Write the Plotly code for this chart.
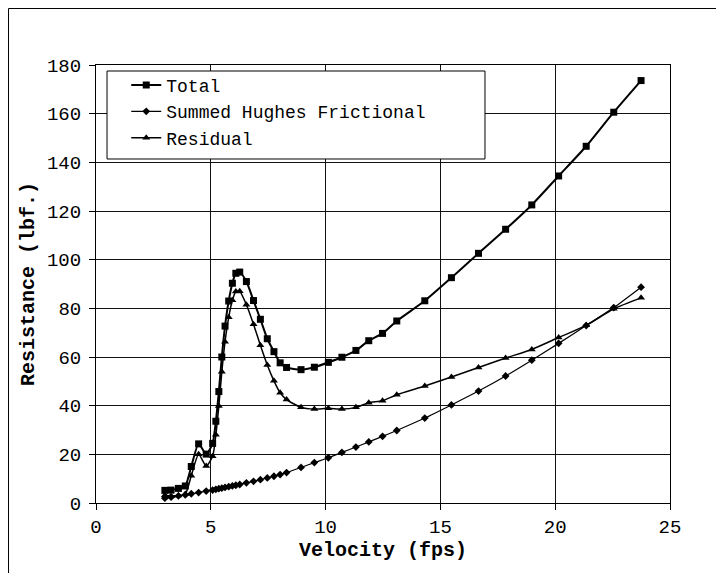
import plotly.graph_objects as go

velocity = [3.0, 3.27, 3.59, 3.89, 4.15, 4.47, 4.8, 5.08, 5.22, 5.35, 5.48, 5.62, 5.78, 5.94,
            6.09, 6.26, 6.55, 6.86, 7.16, 7.46, 7.75, 8.02, 8.3, 8.93, 9.51, 10.12, 10.71,
            11.32, 11.88, 12.48, 13.1, 14.32, 15.48, 16.66, 17.84, 18.98, 20.15, 21.35,
            22.55, 23.74]

total = [5.2, 5.3, 6.0, 7.0, 15.0, 24.3, 20.1, 24.5, 33.6, 45.8, 60.0, 72.7, 83.0, 90.3,
         94.4, 94.9, 91.0, 83.2, 75.5, 67.5, 62.2, 57.6, 55.7, 54.8, 55.8, 57.8, 59.9,
         62.7, 66.7, 69.7, 74.8, 83.1, 92.6, 102.6, 112.5, 122.5, 134.4, 146.6,
         160.6, 173.6]

frictional = [2.0, 2.4, 2.9, 3.3, 3.8, 4.3, 4.9, 5.3, 5.6, 5.9, 6.1, 6.4, 6.7, 7.0,
              7.3, 7.6, 8.3, 8.9, 9.6, 10.3, 11.0, 11.7, 12.5, 14.6, 16.6, 18.6, 20.8,
              23.0, 25.1, 27.4, 29.8, 34.9, 40.3, 46.0, 52.2, 58.7, 65.6, 72.9,
              80.3, 88.7]

residual = [3.2, 2.9, 3.1, 3.7, 11.2, 20.0, 15.2, 19.2, 28.0, 39.9, 53.9, 66.3, 76.3, 83.3,
            86.9, 87.0, 81.5, 73.5, 64.8, 56.7, 50.2, 45.3, 42.5, 39.3, 38.6, 38.9, 38.6,
            39.3, 41.2, 42.0, 44.5, 48.1, 51.8, 55.7, 59.6, 63.1, 68.0, 73.0,
            79.8, 84.3]

x_ticks = [0, 5, 10, 15, 20, 25]
y_ticks = [0, 20, 40, 60, 80, 100, 120, 140, 160, 180]

FONT = "Liberation Mono, Courier New, monospace"

fig = go.Figure()
fig.add_trace(go.Scatter(x=velocity, y=total, name="Total", mode="lines+markers",
                         line=dict(color="black", width=2, shape="spline", smoothing=0.6),
                         marker=dict(symbol="square", size=7, color="black")))
fig.add_trace(go.Scatter(x=velocity, y=frictional, name="Summed Hughes Frictional",
                         mode="lines+markers",
                         line=dict(color="black", width=1.2, shape="spline", smoothing=0.6),
                         marker=dict(symbol="diamond", size=6, color="black")))
fig.add_trace(go.Scatter(x=velocity, y=residual, name="Residual", mode="lines+markers",
                         line=dict(color="black", width=1.5, shape="spline", smoothing=0.6),
                         marker=dict(symbol="triangle-up", size=7, color="black")))

axis_common = dict(showgrid=True, gridcolor="#111", gridwidth=1, zeroline=False,
                   showline=True, linecolor="black", linewidth=1, mirror=True,
                   ticks="outside", ticklen=6, tickcolor="black",
                   tickfont=dict(family=FONT, size=19, color="black"))

fig.update_xaxes(range=[0, 25], tickvals=x_ticks, ticktext=[str(v) for v in x_ticks],
                 title=dict(text="<b>Velocity (fps)</b>", font=dict(family=FONT, size=20, color="black"),
                            standoff=4),
                 **axis_common)
fig.update_yaxes(range=[0, 180], tickvals=y_ticks, ticktext=[str(v) for v in y_ticks],
                 ticklabelstandoff=4,
                 title=dict(text="<b>Resistance (lbf.)</b>", font=dict(family=FONT, size=20, color="black"),
                            standoff=6),
                 **axis_common)

fig.update_layout(
    width=716, height=565,
    margin=dict(l=88, r=54, t=57, b=70),
    paper_bgcolor="white", plot_bgcolor="white",
    showlegend=True,
    legend=dict(x=0.0527, y=0.996, xanchor="left", yanchor="top",
                bgcolor="rgba(0,0,0,0)", borderwidth=0,
                font=dict(family=FONT, size=18, color="black")),
    shapes=[
        dict(type="rect", xref="paper", yref="paper", x0=0.0192, x1=0.6777, y0=0.7854, y1=0.9863,
             fillcolor="white", line=dict(color="black", width=1), layer="above"),
        dict(type="line", xref="paper", yref="paper", x0=-0.1524, x1=1.09, y0=1.129, y1=1.129,
             line=dict(color="black", width=1), layer="above"),
        dict(type="line", xref="paper", yref="paper", x0=-0.1524, x1=-0.1524, y0=1.129, y1=-0.16,
             line=dict(color="black", width=1), layer="above"),
    ],
)

fig.write_html("out.html")
